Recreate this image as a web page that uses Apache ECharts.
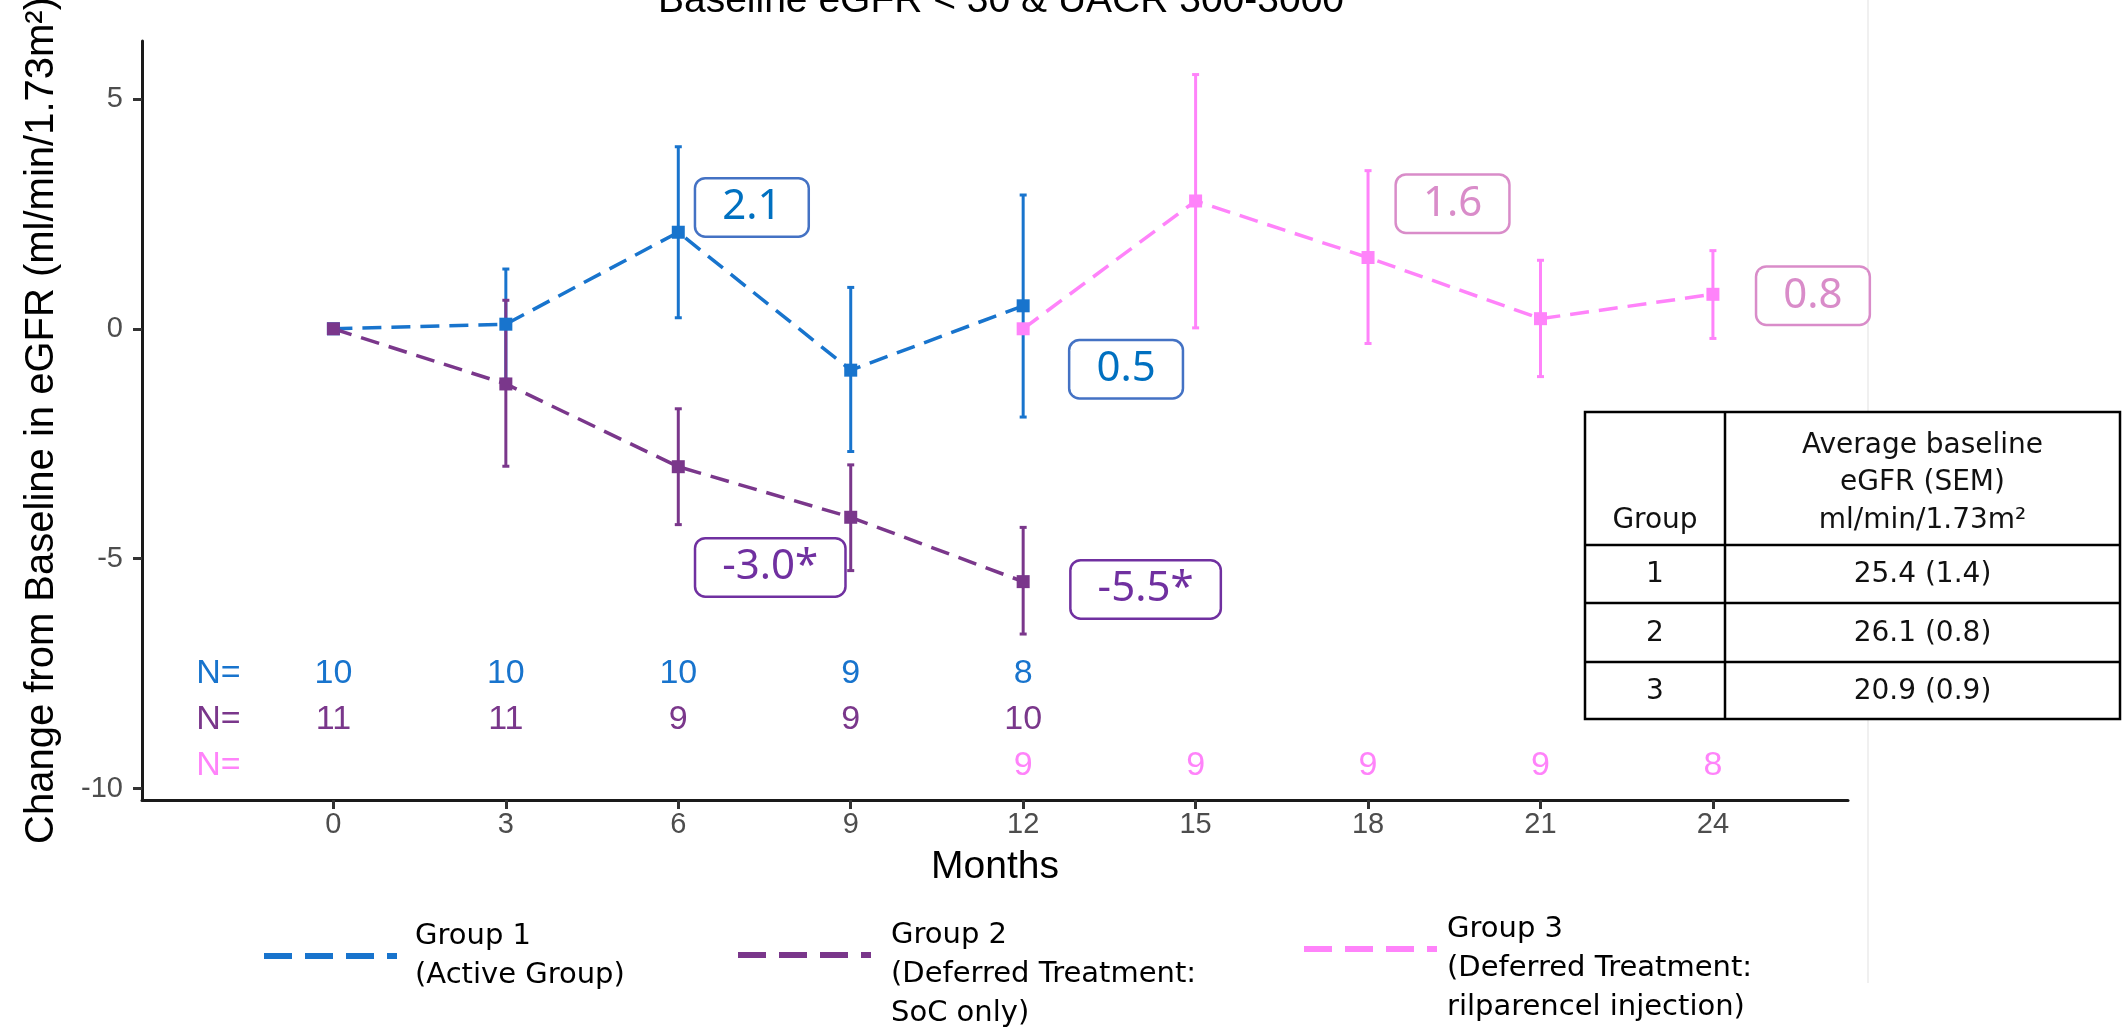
<!DOCTYPE html>
<html>
<head>
<meta charset="utf-8">
<script src="https://cdn.jsdelivr.net/npm/echarts@6/dist/echarts.min.js"></script>
<style>
  html, body {margin: 0; padding: 0; background: #fff;}
  #chart {width: 2124px; height: 1027px;}
</style>
</head>
<body>
<div id="chart"></div>
<script>
  // group 1 (active group)
  const months1 = [0, 3, 6, 9, 12]
  const mean1 = [0, 0.1, 2.1, -0.9, 0.5]
  const low1 = [null, -1.1, 0.24, -2.67, -1.92]
  const high1 = [null, 1.3, 3.96, 0.9, 2.91]
  const n1 = [10, 10, 10, 9, 8]
  // group 2 (deferred, SoC only)
  const months2 = [0, 3, 6, 9, 12]
  const mean2 = [0, -1.2, -3.0, -4.1, -5.5]
  const low2 = [null, -2.99, -4.26, -5.26, -6.64]
  const high2 = [null, 0.62, -1.74, -2.96, -4.32]
  const n2 = [11, 11, 9, 9, 10]
  // group 3 (deferred, rilparencel injection)
  const months3 = [12, 15, 18, 21, 24]
  const mean3 = [0, 2.78, 1.55, 0.22, 0.75]
  const low3 = [null, 0.02, -0.32, -1.04, -0.21]
  const high3 = [null, 5.53, 3.44, 1.49, 1.70]
  const n3 = [9, 9, 9, 9, 8]

  const monthTicks = [0, 3, 6, 9, 12, 15, 18, 21, 24]
  const yTicks = [-10, -5, 0, 5]
  const nRowY = [-7.5, -8.5, -9.5]   // where the N= rows sit on the y scale
  const nLabelX = -2

  // boxed value call-outs: anchor month, anchor value, text
  const calloutX = [7.28, 13.79, 7.6, 14.13, 19.47, 25.74]
  const calloutY = [2.64, -0.88, -5.19, -5.67, 2.72, 0.72]
  const calloutText = ['2.1', '0.5', '-3.0*', '-5.5*', '1.6', '0.8']
  const calloutGroup = [0, 0, 1, 1, 2, 2]

  // side table
  const tableGroups = ['1', '2', '3']
  const tableBaseline = ['25.4 (1.4)', '26.1 (0.8)', '20.9 (0.9)']

  const groupNames = ['Group 1', 'Group 2', 'Group 3']
  // leading blank line keeps the dash level with the first two lines
  const legendText = ['Group 1\n(Active Group)', '\nGroup 2\n(Deferred Treatment:\nSoC only)', '\nGroup 3\n(Deferred Treatment:\nrilparencel injection)']

  const colors = ['#1874CD', '#7A378B', '#FF83FA']
  const calloutColors = ['#0070C0', '#7030A0', '#D98CC9']
  const calloutBorders = ['#4472C4', '#7030A0', '#D98CC9']
  const ARIAL = 'Liberation Sans, Arial, sans-serif'
  const GOTHIC = 'DejaVu Sans, sans-serif'
  const CALIBRI = 'Noto Sans, sans-serif'

  function errorBars (name, color, xs, lo, hi) {
    let data = []
    xs.forEach((x, i) => { if (lo[i] !== null) data.push([x, lo[i], hi[i]]) })
    return {
      name: name + ' SEM',
      type: 'custom',
      data: data,
      encode: {x: 0, y: [1, 2]},
      renderItem (params, api) {
        let top = api.coord([api.value(0), api.value(2)])
        let bot = api.coord([api.value(0), api.value(1)])
        let cap = 3.5
        let st = {stroke: color, lineWidth: 3}
        return {
          type: 'group',
          children: [
            {type: 'line', shape: {x1: top[0], y1: top[1], x2: bot[0], y2: bot[1]}, style: st},
            {type: 'line', shape: {x1: top[0] - cap, y1: top[1], x2: top[0] + cap, y2: top[1]}, style: st},
            {type: 'line', shape: {x1: bot[0] - cap, y1: bot[1], x2: bot[0] + cap, y2: bot[1]}, style: st}
          ]
        }
      }
    }
  }

  function meanLine (name, color, xs, ys) {
    return {
      name: name,
      type: 'line',
      data: xs.map((x, i) => [x, ys[i]]),
      symbol: 'rect',
      symbolSize: 13,
      itemStyle: {color: color, borderWidth: 0, opacity: 1},
      lineStyle: {color: color, width: 3.5, type: [19, 10]},
      emphasis: {disabled: true}
    }
  }

  function nRow (color, xs, ns, rowY) {
    let data = [[nLabelX, rowY, 'N=']].concat(xs.map((x, i) => [x, rowY, String(ns[i])]))
    return {
      type: 'scatter',
      data: data,
      symbolSize: 1,
      itemStyle: {color: 'rgba(0,0,0,0)', opacity: 1},
      label: {
        show: true,
        position: 'inside',
        formatter: p => p.value[2],
        color: color,
        fontSize: 34,
        fontFamily: ARIAL
      },
      silent: true
    }
  }

  let callouts = {
    type: 'scatter',
    data: calloutX.map((x, i) => ({
      value: [x, calloutY[i]],
      label: {
        color: calloutColors[calloutGroup[i]],
        borderColor: calloutBorders[calloutGroup[i]]
      }
    })),
    symbolSize: 1,
    itemStyle: {color: 'rgba(0,0,0,0)', opacity: 1},
    label: {
      show: true,
      position: 'inside',
      formatter: p => calloutText[p.dataIndex],
      fontSize: 42,
      lineHeight: 42,
      fontFamily: CALIBRI,
      backgroundColor: '#fff',
      borderWidth: 2.5,
      borderRadius: 9,
      padding: [7, 26]
    },
    clip: false,
    silent: true,
    z: 5
  }

  function legendFor (i, left, top, padLeft) {
    return {
      data: [groupNames[i]],
      left: left,
      top: top,
      padding: 0,
      selectedMode: false,
      icon: 'path://M0,0h28v6h-28z M41,0h28v6h-28z M82,0h28v6h-28z M123,0h10v6h-10z',
      itemWidth: 133,
      itemHeight: 6,
      itemStyle: {borderWidth: 0},
      formatter: () => legendText[i],
      textStyle: {
        fontSize: 29,
        lineHeight: 39,
        fontFamily: GOTHIC,
        color: '#000',
        padding: [0, 0, 0, padLeft]
      }
    }
  }

  // table drawn as plain graphics
  const tL = 1585, tR = 2120, tT = 412, tB = 719, colX = 1725
  const rowLines = [545, 603, 662]
  let tableEls = [
    {type: 'rect', shape: {x: tL, y: tT, width: tR - tL, height: tB - tT}, style: {fill: '#fff', stroke: '#000', lineWidth: 2.5}},
    {type: 'line', shape: {x1: colX, y1: tT, x2: colX, y2: tB}, style: {stroke: '#000', lineWidth: 2.5}}
  ]
  rowLines.forEach(y => {
    tableEls.push({type: 'line', shape: {x1: tL, y1: y, x2: tR, y2: y}, style: {stroke: '#000', lineWidth: 2.5}})
  })
  let cellFont = {fontSize: 28, fontFamily: GOTHIC, fill: '#111', align: 'center', verticalAlign: 'middle'}
  tableEls.push({type: 'text', x: (tL + colX) / 2, y: 521, style: Object.assign({text: 'Group'}, cellFont)})
  tableEls.push({type: 'text', x: (colX + tR) / 2, y: 483,
    style: Object.assign({text: 'Average baseline\neGFR (SEM)\nml/min/1.73m²', lineHeight: 37.5}, cellFont)})
  tableGroups.forEach((g, i) => {
    let lo = rowLines[i]
    let hi = i === 2 ? tB : rowLines[i + 1]
    let cy = (lo + hi) / 2 + 1
    tableEls.push({type: 'text', x: (tL + colX) / 2, y: cy, style: Object.assign({text: g}, cellFont)})
    tableEls.push({type: 'text', x: (colX + tR) / 2, y: cy, style: Object.assign({text: tableBaseline[i]}, cellFont)})
  })

  let chart = echarts.init(document.getElementById('chart'))
  chart.setOption({
    animation: false,
    backgroundColor: '#fff',
    title: {
      text: 'Baseline eGFR < 30 & UACR 300-3000',
      left: 996,
      top: -23,
      textAlign: 'center',
      textStyle: {fontSize: 39, fontWeight: 'normal', fontFamily: ARIAL, color: '#000'}
    },
    grid: {left: 142, right: 276, top: 41, bottom: 227, containLabel: false, outerBoundsMode: 'none'},
    xAxis: {
      type: 'value',
      min: -3.33,
      max: 26.35,
      name: 'Months',
      nameLocation: 'middle',
      nameGap: 48,
      nameTextStyle: {fontSize: 39, fontFamily: ARIAL, color: '#000'},
      axisLine: {onZero: false, lineStyle: {color: '#1a1a1a', width: 3}},
      axisTick: {show: true, length: 9, customValues: monthTicks, lineStyle: {color: '#333', width: 3}},
      axisLabel: {customValues: monthTicks, margin: 10, fontSize: 29, fontFamily: ARIAL, color: '#4D4D4D'},
      splitLine: {show: false}
    },
    yAxis: {
      type: 'value',
      min: -10.25,
      max: 6.26,
      name: 'Change from Baseline in eGFR (ml/min/1.73m²)',
      nameLocation: 'middle',
      nameGap: 80,
      nameTextStyle: {fontSize: 40, fontFamily: ARIAL, color: '#000'},
      axisLine: {show: true, onZero: false, lineStyle: {color: '#1a1a1a', width: 3}},
      axisTick: {show: true, length: 9, customValues: yTicks, lineStyle: {color: '#333', width: 3}},
      axisLabel: {customValues: yTicks, margin: 19, fontSize: 29, fontFamily: ARIAL, color: '#4D4D4D'},
      splitLine: {show: false}
    },
    legend: [
      legendFor(0, 264, 917, 13),
      legendFor(1, 738, 877, 15),
      legendFor(2, 1304, 871, 5)
    ],
    graphic: [
      {type: 'line', shape: {x1: 1868, y1: 0, x2: 1868, y2: 983}, style: {stroke: '#ebebeb', lineWidth: 1.5}, z: -1},
      {type: 'group', children: tableEls}
    ],
    series: [
      errorBars(groupNames[0], colors[0], months1, low1, high1),
      meanLine(groupNames[0], colors[0], months1, mean1),
      errorBars(groupNames[1], colors[1], months2, low2, high2),
      meanLine(groupNames[1], colors[1], months2, mean2),
      errorBars(groupNames[2], colors[2], months3, low3, high3),
      meanLine(groupNames[2], colors[2], months3, mean3),
      nRow(colors[0], months1, n1, nRowY[0]),
      nRow(colors[1], months2, n2, nRowY[1]),
      nRow(colors[2], months3, n3, nRowY[2]),
      callouts
    ]
  })
</script>
</body>
</html>
